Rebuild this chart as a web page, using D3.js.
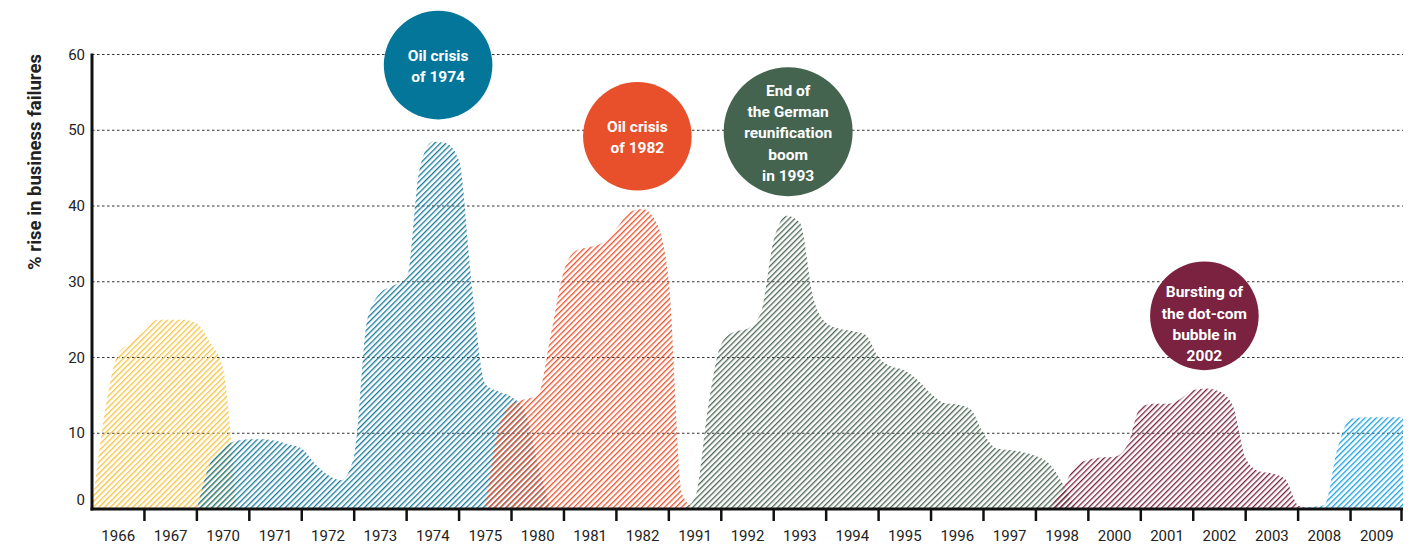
<!DOCTYPE html>
<html>
<head>
<meta charset="utf-8">
<script src="https://cdn.jsdelivr.net/npm/d3@7"></script>
<style>
  html, body { margin: 0; padding: 0; background: #fff; }
  svg { display: block; font-family: Roboto, "Noto Sans", sans-serif; }
</style>
</head>
<body>
<svg id="chart" width="1419" height="547"></svg>
<script>
// ---------- DATA ----------
const categories = ["1966","1967","1970","1971","1972","1973","1974","1975","1980","1981","1982","1991","1992","1993","1994","1995","1996","1997","1998","2000","2001","2002","2003","2008","2009"];
const yTicks = [0, 10, 20, 30, 40, 50, 60];
const yLabel = "% rise in business failures";

// quarterly values (% rise), each series starting at a quarter index of the category axis
const yellowStart = 0;
const yellowValues = [0, 13, 20.5, 22, 23.5, 25, 25, 25, 24.5, 22, 18.5, 0];
const tealStart = 8;
const tealValues = [0, 6, 8, 9, 9.2, 9.2, 9, 8.5, 8, 6, 4.5, 3.8, 7, 25, 28.5, 29.5, 30.5, 45, 48.5, 48.3, 46, 29, 16.5, 15.5, 14.8, 13, 6, 0];
const redStart = 30;
const redValues = [0, 10.5, 13.8, 14.5, 15, 23, 31.5, 34.2, 34.6, 35.2, 37, 39.2, 39.6, 38, 30, 2, 0];
const greenStart = 45;
const greenValues = [0, 1.5, 13.5, 21.8, 23.4, 23.8, 25.8, 35.5, 38.7, 37.8, 28, 24.6, 23.8, 23.5, 23, 20, 18.8, 18.3, 17, 15.2, 14, 13.8, 13.2, 10, 8, 7.8, 7.5, 7, 6, 3.5, 0];
const maroonStart = 73;
const maroonValues = [0, 2.5, 5.7, 6.5, 6.8, 6.9, 8.5, 13.5, 13.9, 13.9, 14.5, 15.7, 15.9, 15.5, 13.7, 6.7, 5, 4.7, 4, 0.5, 0];
const blueStart = 92;
const blueValues = [0, 0.3, 0.5, 8, 11.9, 12.1, 12.1, 12.1, 12.1];

// annotation bubbles: label lines, position on the axis (quarter index) and value
const bubbleLabels = [["Oil crisis", "of 1974"], ["Oil crisis", "of 1982"], ["End of", "the German", "reunification", "boom", "in 1993"], ["Bursting of", "the dot-com", "bubble in", "2002"]];
const bubbleQuarter = [26.4, 41.6, 53.1, 84.85];
const bubbleValue = [58.6, 49.2, 49.8, 25.5];

// ---------- STYLES ----------
const colors = {
  yellow: "#f6c444", teal: "#1a7c9c", red: "#e8552f",
  green: "#4f6a57", maroon: "#7a2742", blue: "#1ba1dc"
};
const bubbleColors = ["#04769a", "#e8502b", "#446450", "#7a2240"];

const series = [
  { key: "yellow", start: yellowStart, values: yellowValues },
  { key: "teal", start: tealStart, values: tealValues },
  { key: "red", start: redStart, values: redValues },
  { key: "green", start: greenStart, values: greenValues },
  { key: "maroon", start: maroonStart, values: maroonValues },
  { key: "blue", start: blueStart, values: blueValues }
];

// ---------- CHART ----------
const svg = d3.select("#chart");
const x0 = 92, x1 = 1403, yBottom = 509, yTop = 54.5;

const xBand = d3.scaleBand().domain(categories).range([x0, x1]).padding(0);
const xq = d3.scaleLinear().domain([0, categories.length * 4]).range(xBand.range());
const y = d3.scaleLinear().domain([0, 60]).range([yBottom, yTop]);

// patterns
const defs = svg.append("defs");
Object.entries(colors).forEach(([k, c]) => {
  const p = defs.append("pattern")
    .attr("id", "hatch-" + k)
    .attr("patternUnits", "userSpaceOnUse")
    .attr("width", 4).attr("height", 10)
    .attr("patternTransform", "rotate(45)");
  p.append("rect").attr("x", 0).attr("y", 0).attr("width", 1.35).attr("height", 10).attr("fill", c);
});

// gridlines
svg.append("g").selectAll("line")
  .data(yTicks.filter(d => d > 0))
  .join("line")
  .attr("x1", x0).attr("x2", x1)
  .attr("y1", d => y(d)).attr("y2", d => y(d))
  .attr("stroke", "#333").attr("stroke-width", 1)
  .attr("stroke-dasharray", "2.5,2.5");

// areas
const area = d3.area()
  .x(d => xq(d.k))
  .y0(y(0))
  .y1(d => y(d.v))
  .curve(d3.curveMonotoneX);

svg.append("g").selectAll("path")
  .data(series)
  .join("path")
  .attr("d", s => area(s.values.map((v, i) => ({ k: s.start + i, v }))))
  .attr("fill", s => "url(#hatch-" + s.key + ")");

// y tick labels
svg.append("g").selectAll("text")
  .data(yTicks)
  .join("text")
  .attr("x", 85)
  .attr("y", d => y(d) + (d === 0 ? -4 : 5))
  .attr("text-anchor", "end")
  .attr("font-size", 15)
  .attr("fill", "#222")
  .text(d => d);

// y axis label
svg.append("text")
  .attr("transform", `translate(41, ${162}) rotate(-90)`)
  .attr("text-anchor", "middle")
  .attr("font-size", 18.5)
  .attr("font-weight", "bold")
  .attr("fill", "#222")
  .text(yLabel);

// x axis labels
svg.append("g").selectAll("text")
  .data(categories)
  .join("text")
  .attr("x", d => xBand(d) + xBand.bandwidth() / 2)
  .attr("y", 541)
  .attr("text-anchor", "middle")
  .attr("font-size", 15)
  .attr("fill", "#222")
  .text(d => d);

// x ticks at band boundaries
svg.append("g").selectAll("line")
  .data(categories)
  .join("line")
  .attr("x1", d => xBand(d) + xBand.bandwidth() - (d === categories[categories.length - 1] ? 1.5 : 0))
  .attr("x2", d => xBand(d) + xBand.bandwidth() - (d === categories[categories.length - 1] ? 1.5 : 0))
  .attr("y1", yBottom).attr("y2", yBottom + 12)
  .attr("stroke", "#111").attr("stroke-width", 2.5);

// axis lines
svg.append("line")
  .attr("x1", x0).attr("x2", x0).attr("y1", yTop - 1).attr("y2", yBottom + 1.5)
  .attr("stroke", "#111").attr("stroke-width", 3);
svg.append("line")
  .attr("x1", x0 - 1.5).attr("x2", x1).attr("y1", yBottom).attr("y2", yBottom)
  .attr("stroke", "#111").attr("stroke-width", 3);

// bubbles
const bubbles = bubbleLabels.map((lines, i) => ({
  lines, cx: xq(bubbleQuarter[i]), cy: y(bubbleValue[i]), color: bubbleColors[i]
}));
const bg = svg.append("g").selectAll("g")
  .data(bubbles)
  .join("g");
bg.append("circle")
  .attr("cx", d => d.cx).attr("cy", d => d.cy)
  .attr("r", d => d.lines.length > 4 ? 64.5 : 54.3)
  .attr("fill", d => d.color);
bg.each(function(d) {
  const g = d3.select(this);
  const lh = 21.3;
  const n = d.lines.length;
  const shift = n === 4 ? 8 : 1;
  d.lines.forEach((t, i) => {
    g.append("text")
      .attr("x", d.cx)
      .attr("y", d.cy + (i - (n - 1) / 2) * lh + shift + 5.5)
      .attr("text-anchor", "middle")
      .attr("font-size", 15.5)
      .attr("font-weight", "bold")
      .attr("fill", "#fff")
      .text(t);
  });
});
</script>
</body>
</html>
